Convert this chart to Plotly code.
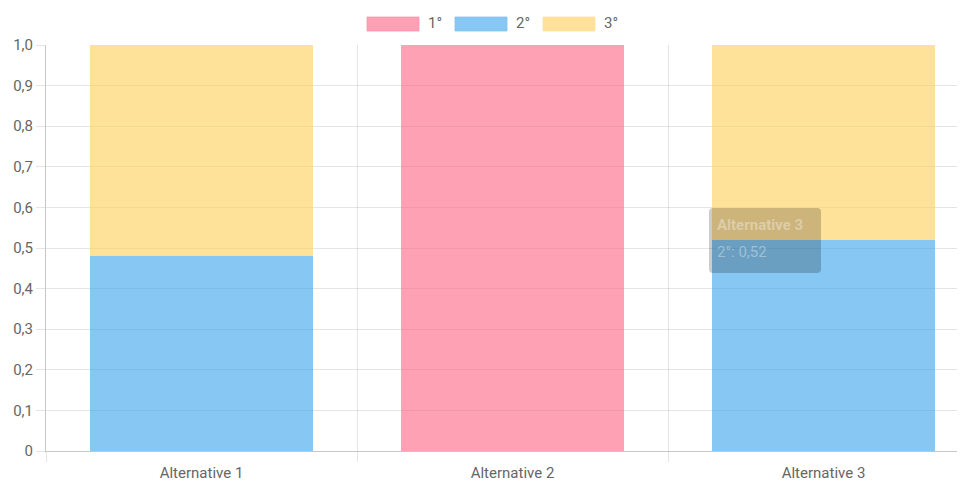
import plotly.graph_objects as go

categories = ["Alternative 1", "Alternative 2", "Alternative 3"]
series_names = ["1°", "2°", "3°"]
values_1 = [0, 1.0, 0]
values_2 = [0.48, 0, 0.52]
values_3 = [0.52, 0, 0.48]
y_tick_vals = [0, 0.1, 0.2, 0.3, 0.4, 0.5, 0.6, 0.7, 0.8, 0.9, 1.0]
y_tick_text = ["0", "0,1", "0,2", "0,3", "0,4", "0,5", "0,6", "0,7", "0,8", "0,9", "1,0"]

fills = ["rgba(255,99,132,0.6)", "rgba(54,162,235,0.6)", "rgba(255,206,86,0.6)"]
borders = ["rgba(255,140,165,0.7)", "rgba(130,195,240,0.8)", "rgba(255,225,160,0.8)"]

OFF = 8  # page body margin
W, H = 957, 473
ML, MR, MT, MB = 38, 0, 37, 30
PW, PH = W - ML - MR, H - MT - MB

def px_x(p):
    return (p - OFF - ML) / PW

def px_y(p):
    return (H - MB - (p - OFF)) / PH

fig = go.Figure()
for name, vals, fc in zip(series_names, [values_1, values_2, values_3], fills):
    fig.add_trace(go.Bar(
        x=categories, y=vals, name=name, width=0.717,
        marker=dict(color=fc, line=dict(width=0)),
        showlegend=False,
    ))

font_color = "#666666"
FS = 15
fig.update_layout(
    width=W, height=H,
    margin=dict(l=ML, r=MR, t=MT, b=MB),
    barmode="stack",
    plot_bgcolor="white", paper_bgcolor="white",
    font=dict(family="Roboto, sans-serif", size=FS, color=font_color),
    separators=",.",
    xaxis=dict(
        type="category", range=[-0.5, -0.5 + PW / 311.0],
        tickson="boundaries", showgrid=True, gridcolor="rgba(0,0,0,0.1)",
        ticks="outside", ticklen=10, tickcolor="rgba(0,0,0,0.1)",
        showline=True, linecolor="rgba(0,0,0,0.22)", linewidth=1,
        tickfont=dict(size=FS, color=font_color),
        ticklabelstandoff=8,
    ),
    yaxis=dict(
        range=[0, 1.0], tickvals=y_tick_vals, ticktext=y_tick_text,
        showgrid=True, gridcolor="rgba(0,0,0,0.1)", zeroline=False,
        ticks="outside", ticklen=9, tickcolor="rgba(0,0,0,0.1)",
        showline=True, linecolor="rgba(0,0,0,0.22)", linewidth=1,
        tickfont=dict(size=FS, color=font_color),
    ),
)

# Custom legend (Chart.js style wide boxes)
legend_boxes = [(367, 419), (455, 507), (543, 595)]
for (x0, x1), name, fc, bc in zip(legend_boxes, series_names, fills, borders):
    fig.add_shape(type="rect", xref="paper", yref="paper",
                  x0=px_x(x0), x1=px_x(x1), y0=px_y(31), y1=px_y(17),
                  fillcolor=fc, line=dict(color=bc, width=1))
    fig.add_annotation(xref="paper", yref="paper", x=px_x(x1 + 7), y=px_y(23),
                       text=name, showarrow=False, xanchor="left", yanchor="middle",
                       font=dict(size=FS, color=font_color))

# Tooltip (faded) anchored at Alternative 3, 2° value
tip_cat = categories[2]
tip_val = values_2[2]
r = 4
x0, x1, y0, y1 = -114.5, -2.5, -33, 32
path = (f"M{x0+r},{y0} L{x1-r},{y0} Q{x1},{y0} {x1},{y0+r} L{x1},{y1-r} Q{x1},{y1} {x1-r},{y1} "
        f"L{x0+r},{y1} Q{x0},{y1} {x0},{y1-r} L{x0},{y0+r} Q{x0},{y0} {x0+r},{y0} Z")
fig.add_shape(type="path", xref="x", yref="y", xsizemode="pixel", ysizemode="pixel",
              xanchor=2, yanchor=tip_val, path=path,
              fillcolor="rgba(0,0,0,0.2)", line=dict(width=0))
fig.add_annotation(x=2, y=tip_val, xref="x", yref="y", text="<b>" + tip_cat + "</b>",
                   showarrow=False, xanchor="left", yanchor="middle", xshift=-109, yshift=15,
                   font=dict(size=FS, color="rgba(255,255,255,0.35)"))
fig.add_annotation(x=2, y=tip_val, xref="x", yref="y",
                   text=series_names[1] + ": " + f"{tip_val:.2f}".replace(".", ","),
                   showarrow=False, xanchor="left", yanchor="middle", xshift=-109, yshift=-12,
                   font=dict(size=FS, color="rgba(255,255,255,0.35)"))

fig.write_html("out.html")
